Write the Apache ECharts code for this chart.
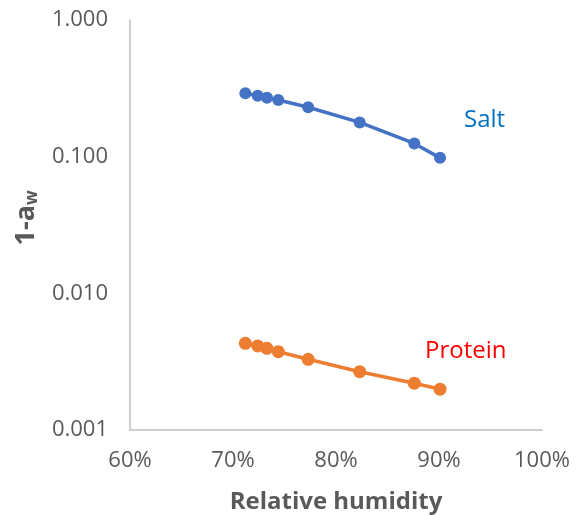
<!DOCTYPE html>
<html>
<head>
<meta charset="utf-8">
<script src="https://cdn.jsdelivr.net/npm/echarts@6/dist/echarts.min.js"></script>
<style>html,body{margin:0;padding:0;background:#fff}#c{width:579px;height:515px}</style>
</head>
<body>
<div id="c"></div>
<script>
var saltRH = [71.2, 72.4, 73.3, 74.4, 77.3, 82.3, 87.6, 90.1];
var saltVal = [0.291, 0.279, 0.270, 0.260, 0.230, 0.178, 0.125, 0.098];
var proteinRH = [71.2, 72.4, 73.3, 74.4, 77.3, 82.3, 87.6, 90.1];
var proteinVal = [0.00431, 0.00412, 0.00396, 0.00374, 0.00329, 0.00267, 0.00220, 0.00199];
var xTicks = [60, 70, 80, 90, 100];
var yTicks = [0.001, 0.01, 0.1, 1];
var seriesNames = ['Salt', 'Protein'];

function pairs(xs, ys) { return xs.map(function (x, i) { return [x, ys[i]]; }); }

var FONT = 'Open Sans';
var chart = echarts.init(document.getElementById('c'));
chart.setOption({
  animation: false,
  grid: { left: 130, right: 37, top: 20, bottom: 85, outerBoundsMode: 'none', containLabel: false },
  xAxis: {
    type: 'value', min: xTicks[0], max: xTicks[xTicks.length - 1], interval: 10,
    axisLine: { show: true, lineStyle: { color: '#BFBFBF', width: 1.5 } },
    axisTick: { show: false }, splitLine: { show: false },
    axisLabel: { formatter: '{value}%', color: '#595959', fontFamily: FONT, fontSize: 22, margin: 20 },
    name: 'Relative humidity', nameLocation: 'middle', nameGap: 60,
    nameTextStyle: { color: '#595959', fontFamily: FONT, fontSize: 24, fontWeight: 'bold' }
  },
  yAxis: {
    type: 'log', logBase: 10, min: yTicks[0], max: yTicks[yTicks.length - 1],
    axisLine: { show: true, lineStyle: { color: '#BFBFBF', width: 1.5 } },
    axisTick: { show: false }, splitLine: { show: false }, minorSplitLine: { show: false },
    axisLabel: { formatter: function (v) { return Number(v).toFixed(3); }, color: '#595959', fontFamily: FONT, fontSize: 22, margin: 22 },
    name: '{a|1-a}{s|w}', nameLocation: 'middle', nameGap: 87, nameRotate: 90,
    nameTextStyle: {
      padding: [0, 0, 0, 14],
      rich: {
        a: { color: '#595959', fontFamily: FONT, fontSize: 27, fontWeight: 'bold', lineHeight: 30 },
        s: { color: '#595959', fontFamily: FONT, fontSize: 17, fontWeight: 'bold', lineHeight: 30, padding: [12, 0, 0, 0] }
      }
    }
  },
  series: [
    { name: seriesNames[0], type: 'line', data: pairs(saltRH, saltVal), symbol: 'circle', symbolSize: 12,
      itemStyle: { color: '#4472C4' }, lineStyle: { color: '#4472C4', width: 3.5 } },
    { name: seriesNames[1], type: 'line', data: pairs(proteinRH, proteinVal), symbol: 'circle', symbolSize: 13,
      itemStyle: { color: '#ED7D31' }, lineStyle: { color: '#ED7D31', width: 3.5 } }
  ],
  graphic: [
    { type: 'text', left: 464, top: 108, style: { text: seriesNames[0], fill: '#0070C0', font: '24px "Open Sans"' } },
    { type: 'text', left: 425, top: 339, style: { text: seriesNames[1], fill: '#FF0000', font: '24px "Open Sans"' } }
  ]
});
</script>
</body>
</html>
